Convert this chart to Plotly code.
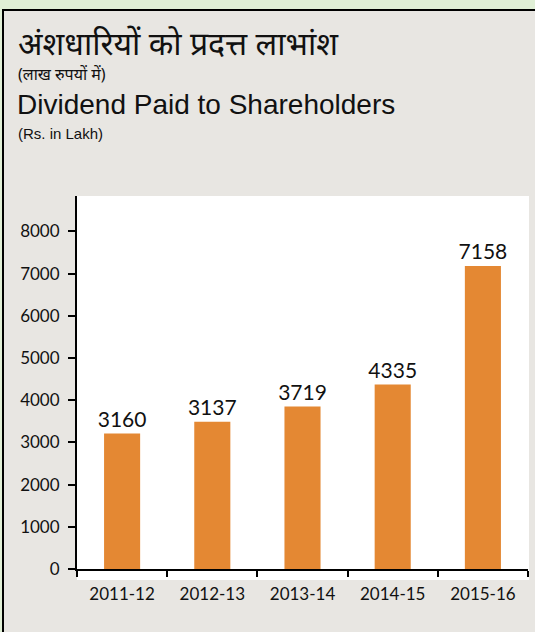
import plotly.graph_objects as go

categories = ["2011-12", "2012-13", "2013-14", "2014-15", "2015-16"]
bar_values = [3210, 3490, 3850, 4370, 7180]
value_labels = ["3160", "3137", "3719", "4335", "7158"]
y_ticks = [0, 1000, 2000, 3000, 4000, 5000, 6000, 7000, 8000]

W, H = 535, 632
L, R, T, B = 77, 528, 196, 569  # plot area in pixels

def px(x):
    return (x - L) / (R - L)

def py(y):
    return (B - y) / (B - T)

fig = go.Figure(go.Bar(
    x=categories, y=bar_values, text=value_labels,
    textposition="outside", cliponaxis=False, constraintext="none",
    marker=dict(color="#E48833", line=dict(width=0)),
    width=0.4,
    textfont=dict(family="Lato, Open Sans, sans-serif", size=21, color="#111111"),
))

shapes = [
    dict(type="rect", xref="paper", yref="paper", layer="below",
         x0=px(3), x1=px(545), y0=py(645), y1=py(10),
         fillcolor="#e8e6e2", line=dict(color="black", width=2)),
    dict(type="rect", xref="paper", yref="paper", layer="below",
         x0=px(77), x1=px(529), y0=py(580), y1=py(196),
         fillcolor="white", line=dict(width=0)),
]

annotations = [
    dict(text="अंशधारियों को प्रदत्त लाभांश", x=px(16), y=py(43), xref="paper", yref="paper",
         xanchor="left", yanchor="middle", showarrow=False,
         font=dict(family="Noto Sans, Noto Serif Devanagari, sans-serif", size=32, color="#111111")),
    dict(text="(लाख रुपयों में)", x=px(16), y=py(74), xref="paper", yref="paper",
         xanchor="left", yanchor="middle", showarrow=False,
         font=dict(family="Noto Sans, sans-serif", size=16, color="#111111")),
    dict(text="Dividend Paid to Shareholders", x=px(15), y=py(104), xref="paper", yref="paper",
         xanchor="left", yanchor="middle", showarrow=False,
         font=dict(family="Liberation Sans, Arial, sans-serif", size=28, color="#111111")),
    dict(text="(Rs. in Lakh)", x=px(16), y=py(133), xref="paper", yref="paper",
         xanchor="left", yanchor="middle", showarrow=False,
         font=dict(family="Liberation Sans, Arial, sans-serif", size=15, color="#111111")),
]

fig.update_layout(
    width=W, height=H,
    margin=dict(l=L, r=W - R, t=T, b=H - B, autoexpand=False),
    paper_bgcolor="#e0efd6",
    plot_bgcolor="rgba(0,0,0,0)",
    showlegend=False,
    shapes=shapes,
    annotations=annotations,
)
fig.update_xaxes(
    type="category", automargin=False,
    showline=True, linecolor="black", linewidth=2,
    ticks="outside", tickson="boundaries", ticklen=6, tickwidth=1.5, tickcolor="black",
    ticklabelstandoff=9,
    tickfont=dict(family="Lato, Open Sans, sans-serif", size=17, color="#111111"),
    showgrid=False,
)
fig.update_yaxes(
    range=[0, 8840], tickvals=y_ticks, automargin=False,
    showline=True, linecolor="black", linewidth=2,
    ticks="outside", ticklen=7, tickwidth=1.5, tickcolor="black",
    ticklabelstandoff=5,
    tickfont=dict(family="Lato, Open Sans, sans-serif", size=17, color="#111111"),
    showgrid=False, zeroline=False,
)

fig.write_html("out.html", config={"displayModeBar": False},
               post_script="document.body.style.margin='0';document.body.style.overflow='hidden';")
